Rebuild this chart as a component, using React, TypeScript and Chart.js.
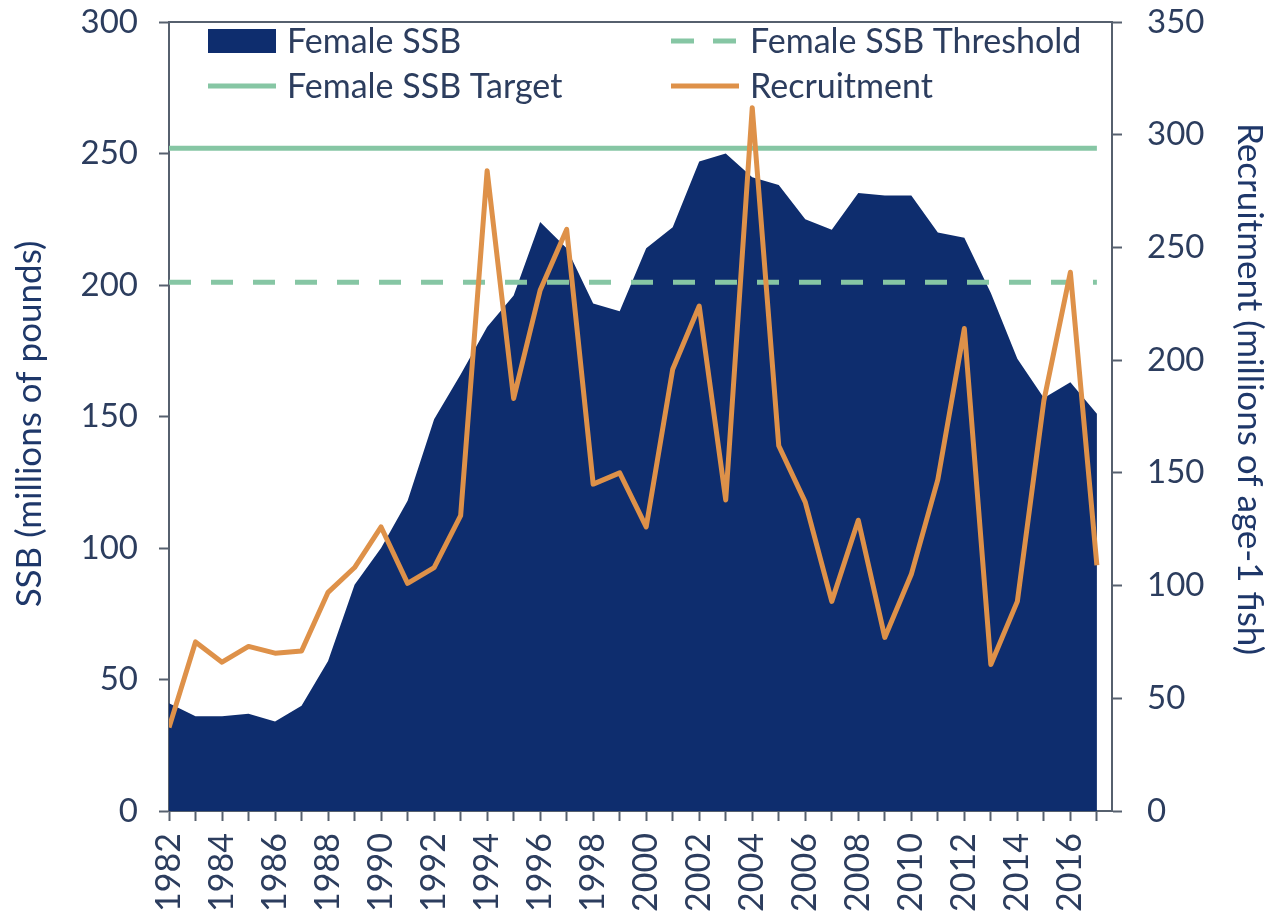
import React, { useEffect, useRef } from 'react';
import { Chart, registerables } from 'chart.js';

Chart.register(...registerables);

const years = [
  1982, 1983, 1984, 1985, 1986, 1987, 1988, 1989, 1990, 1991, 1992, 1993,
  1994, 1995, 1996, 1997, 1998, 1999, 2000, 2001, 2002, 2003, 2004, 2005,
  2006, 2007, 2008, 2009, 2010, 2011, 2012, 2013, 2014, 2015, 2016, 2017,
];

const femaleSSB = [
  41, 36, 36, 37, 34, 40, 57, 86, 100, 118, 149, 166,
  184, 196, 224, 214, 193, 190, 214, 222, 247, 250, 241, 238,
  225, 221, 235, 234, 234, 220, 218, 197, 172, 157, 163, 151,
];

const recruitment = [
  37, 75, 66, 73, 70, 71, 97, 108, 126, 101, 108, 131,
  284, 183, 231, 258, 145, 150, 126, 196, 224, 138, 312, 162,
  137, 93, 129, 77, 105, 147, 214, 65, 93, 182, 239, 109,
];

const ssbTarget = 252;
const ssbThreshold = 201;

const xTickLabels = [
  '1982', '1984', '1986', '1988', '1990', '1992', '1994', '1996', '1998',
  '2000', '2002', '2004', '2006', '2008', '2010', '2012', '2014', '2016',
];

const leftTitle = 'SSB (millions of pounds)';
const rightTitle = 'Recruitment (millions of age-1 fish)';

const NAVY = '#0E2D6E';
const GREEN = '#86C6A4';
const ORANGE = '#DE9149';
const AXIS = '#56606E';
const TICK_TEXT = '#2C3D5E';
const TITLE_TEXT = '#1E3769';
const FONT = "Lato, 'Open Sans', sans-serif";

const overlayPlugin = {
  id: 'overlay',
  afterDatasetsDraw(chart: any) {
    const ctx = chart.ctx as CanvasRenderingContext2D;
    const a = chart.chartArea;
    ctx.save();
    ctx.strokeStyle = AXIS;
    ctx.lineWidth = 2;
    ctx.beginPath();
    ctx.moveTo(a.left, a.top);
    ctx.lineTo(a.right, a.top);
    ctx.stroke();

    const ds = chart.data.datasets;
    const col0 = a.left + 39;
    const col1 = a.left + 502;
    const row0 = a.top + 19;
    const row1 = a.top + 64;
    const symW = 68;
    const textOff = 79;
    ctx.font = `34px ${FONT}`;
    ctx.textBaseline = 'middle';
    ctx.textAlign = 'left';

    const entries = [
      { d: ds.find((x: any) => x.id === 'ssb'), x: col0, y: row0, kind: 'box' },
      { d: ds.find((x: any) => x.id === 'threshold'), x: col1, y: row0, kind: 'dash' },
      { d: ds.find((x: any) => x.id === 'target'), x: col0, y: row1, kind: 'line' },
      { d: ds.find((x: any) => x.id === 'recruit'), x: col1, y: row1, kind: 'line' },
    ];
    for (const e of entries) {
      if (e.kind === 'box') {
        ctx.fillStyle = e.d.backgroundColor;
        ctx.fillRect(e.x, e.y - 12, symW, 24);
      } else {
        ctx.strokeStyle = e.d.borderColor;
        ctx.lineWidth = 5;
        ctx.lineCap = 'butt';
        ctx.setLineDash(e.kind === 'dash' ? [23, 19] : []);
        ctx.beginPath();
        ctx.moveTo(e.x, e.y);
        ctx.lineTo(e.x + symW, e.y);
        ctx.stroke();
        ctx.setLineDash([]);
      }
      ctx.fillStyle = TICK_TEXT;
      ctx.fillText(e.d.label, e.x + textOff, e.y + 1);
    }

    ctx.fillStyle = TITLE_TEXT;
    ctx.font = `35px ${FONT}`;
    ctx.textAlign = 'center';
    ctx.textBaseline = 'middle';
    ctx.save();
    ctx.translate(30, 424);
    ctx.rotate(-Math.PI / 2);
    ctx.fillText(leftTitle, 0, 0);
    ctx.restore();
    ctx.save();
    ctx.translate(1249, 389);
    ctx.rotate(Math.PI / 2);
    ctx.fillText(rightTitle, 0, 0);
    ctx.restore();

    ctx.restore();
  },
};

function zeroPadding(scale: any) {
  scale.paddingTop = 0;
  scale.paddingBottom = 0;
  scale.paddingLeft = 0;
  scale.paddingRight = 0;
}

export default function App() {
  const canvasRef = useRef<HTMLCanvasElement | null>(null);

  useEffect(() => {
    if (!canvasRef.current) return;
    const ssbPoints = years.map((y, i) => ({ x: y, y: femaleSSB[i] }));
    const recPoints = years.map((y, i) => ({ x: y, y: recruitment[i] }));
    const first = years[0];
    const last = years[years.length - 1];

    const chart = new Chart(canvasRef.current, {
      type: 'line',
      data: {
        datasets: [
          {
            id: 'recruit',
            label: 'Recruitment',
            data: recPoints,
            yAxisID: 'y1',
            borderColor: ORANGE,
            borderWidth: 5,
            borderJoinStyle: 'round',
            pointRadius: 0,
            fill: false,
            order: 0,
          } as any,
          {
            id: 'target',
            label: 'Female SSB Target',
            data: [{ x: first, y: ssbTarget }, { x: last, y: ssbTarget }],
            yAxisID: 'y',
            borderColor: GREEN,
            borderWidth: 5,
            pointRadius: 0,
            fill: false,
            order: 1,
          } as any,
          {
            id: 'threshold',
            label: 'Female SSB Threshold',
            data: [{ x: first, y: ssbThreshold }, { x: last, y: ssbThreshold }],
            yAxisID: 'y',
            borderColor: GREEN,
            borderWidth: 5,
            borderDash: [22, 20],
            pointRadius: 0,
            fill: false,
            order: 2,
          } as any,
          {
            id: 'ssb',
            label: 'Female SSB',
            data: ssbPoints,
            yAxisID: 'y',
            borderColor: NAVY,
            borderWidth: 0,
            backgroundColor: NAVY,
            pointRadius: 0,
            fill: 'origin',
            order: 3,
          } as any,
        ],
      },
      options: {
        animation: false,
        responsive: true,
        maintainAspectRatio: false,
        layout: { padding: { top: 22, left: 0, right: 0, bottom: 0 } },
        plugins: {
          legend: { display: false },
          tooltip: { enabled: false },
        },
        font: { family: FONT },
        scales: {
          x: {
            type: 'linear',
            min: 1982,
            max: 2017.57,
            afterBuildTicks: (scale: any) => {
              scale.ticks = years.map((v) => ({ value: v }));
            },
            afterFit: (scale: any) => {
              scale.height = 107;
              zeroPadding(scale);
            },
            ticks: {
              autoSkip: false,
              minRotation: 90,
              maxRotation: 90,
              padding: 12,
              color: TICK_TEXT,
              font: { family: FONT, size: 34 },
              callback: (v: any) => (xTickLabels.includes(String(v)) ? String(v) : ''),
            },
            grid: {
              drawOnChartArea: false,
              drawTicks: true,
              tickLength: 10,
              tickWidth: 2,
              color: AXIS,
            },
            border: { display: true, color: AXIS, width: 2 },
          },
          y: {
            type: 'linear',
            position: 'left',
            min: 0,
            max: 300,
            afterFit: (scale: any) => {
              scale.width = 169;
              zeroPadding(scale);
            },
            ticks: {
              stepSize: 50,
              padding: 21,
              color: TICK_TEXT,
              font: { family: FONT, size: 33 },
            },
            grid: {
              drawOnChartArea: false,
              drawTicks: true,
              tickLength: 10,
              tickWidth: 2,
              color: AXIS,
            },
            border: { display: true, color: AXIS, width: 2 },
          },
          y1: {
            type: 'linear',
            position: 'right',
            min: 0,
            max: 350,
            afterFit: (scale: any) => {
              scale.width = 165;
              zeroPadding(scale);
            },
            ticks: {
              stepSize: 50,
              padding: 25,
              color: TICK_TEXT,
              font: { family: FONT, size: 33 },
            },
            grid: {
              drawOnChartArea: false,
              drawTicks: true,
              tickLength: 10,
              tickWidth: 2,
              color: AXIS,
            },
            border: { display: true, color: AXIS, width: 2 },
          },
        },
      } as any,
      plugins: [overlayPlugin],
    });
    return () => chart.destroy();
  }, []);

  return (
    <div
      style={{
        position: 'fixed',
        left: 0,
        top: 0,
        width: 1277,
        height: 918,
        background: '#ffffff',
      }}
    >
      <canvas ref={canvasRef} />
    </div>
  );
}
